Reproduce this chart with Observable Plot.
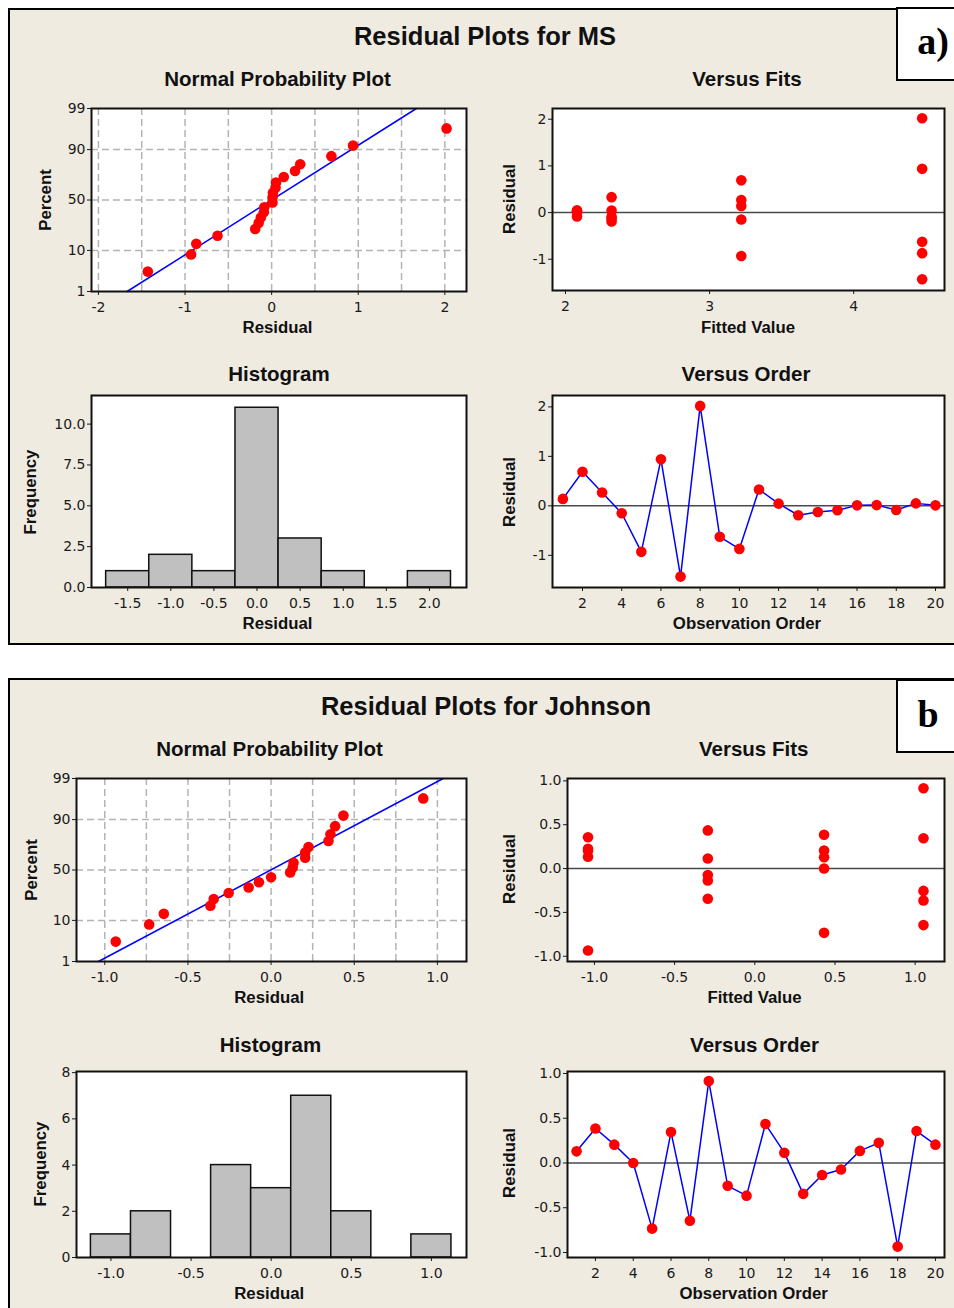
<!DOCTYPE html>
<html>
<head>
<meta charset="utf-8">
<script src="https://cdn.jsdelivr.net/npm/d3@7"></script>
<script src="https://cdn.jsdelivr.net/npm/@observablehq/plot@0.6"></script>
<style>
  html, body { margin: 0; padding: 0; background: #ffffff; }
  #page { position: relative; width: 954px; height: 1308px; overflow: hidden; background: #ffffff; }
  .panel { position: absolute; box-sizing: border-box; border: 2px solid #000; background: #EFEBE1; }
  .tag { position: absolute; box-sizing: border-box; border: 2px solid #000; background: #ffffff; }
  .txt { position: absolute; white-space: nowrap; line-height: 1; font-family: "Liberation Sans", Arial, sans-serif; font-weight: bold; color: #111; transform: translate(-50%, -50%); }
  .rot { transform: translate(-50%, -50%) rotate(-90deg); }
  .letter { position: absolute; width: 100px; text-align: center; line-height: 1; font-family: "Liberation Serif", "Times New Roman", serif; font-weight: bold; font-size: 38px; color: #000; }
</style>
</head>
<body>
<div id="page"></div>
<script>
// ---------------- DATA ----------------
const obsOrder = [1, 2, 3, 4, 5, 6, 7, 8, 9, 10, 11, 12, 13, 14, 15, 16, 17, 18, 19, 20];

// Panel a) MS
const residA = [0.14, 0.69, 0.27, -0.15, -0.93, 0.94, -1.43, 2.02, -0.625, -0.87,
                0.33, 0.045, -0.19, -0.125, -0.09, 0.01, 0.015, -0.085, 0.05, 0.01];
const fitsA  = [3.22, 3.22, 3.22, 3.22, 3.22, 4.475, 4.475, 4.475, 4.475, 4.475,
                2.32, 2.32, 2.32, 2.32, 2.32, 2.08, 2.08, 2.08, 2.08, 2.08];
const histMidA   = [-1.5, -1.0, -0.5, 0.0, 0.5, 1.0, 1.5, 2.0];
const histCountA = [1, 2, 1, 11, 3, 1, 0, 1];
const histWidthA = 0.5;

// Panel b) Johnson
const residB = [0.13, 0.385, 0.205, 0.0, -0.733, 0.345, -0.645, 0.915, -0.255, -0.365,
                0.435, 0.115, -0.345, -0.135, -0.073, 0.135, 0.225, -0.934, 0.357, 0.205];
const fitsB  = [0.432, 0.432, 0.432, 0.432, 0.432, 1.052, 1.052, 1.052, 1.052, 1.052,
                -0.293, -0.293, -0.293, -0.293, -0.293, -1.04, -1.04, -1.04, -1.04, -1.04];
const histMidB   = [-1.0, -0.75, -0.5, -0.25, 0.0, 0.25, 0.5, 0.75, 1.0];
const histCountB = [1, 2, 0, 4, 3, 7, 2, 0, 1];
const histWidthB = 0.25;

// Tick labels / grid values
const pctTicks = [1, 10, 50, 90, 99];
const pctGrid  = [10, 50, 90];
const npXTicksA = [-2, -1, 0, 1, 2];
const npGridA   = [-2, -1.5, -1, -0.5, 0, 0.5, 1, 1.5, 2];
const fitXTicksA = [2, 3, 4];
const residTicksA = [-1, 0, 1, 2];
const histXTicksA = [-1.5, -1.0, -0.5, 0.0, 0.5, 1.0, 1.5, 2.0];
const histYTicksA = [0, 2.5, 5, 7.5, 10];
const orderTicks = [2, 4, 6, 8, 10, 12, 14, 16, 18, 20];
const npXTicksB = [-1, -0.5, 0, 0.5, 1];
const npGridB   = [-1, -0.75, -0.5, -0.25, 0, 0.25, 0.5, 0.75, 1];
const fitXTicksB = [-1, -0.5, 0, 0.5, 1];
const residTicksB = [-1, -0.5, 0, 0.5, 1];
const histXTicksB = [-1, -0.5, 0, 0.5, 1];
const histYTicksB = [0, 2, 4, 6, 8];

// ---------------- HELPERS ----------------
const page = document.getElementById("page");

// inverse standard normal CDF (Acklam)
function probit(p) {
  const a = [-3.969683028665376e+01, 2.209460984245205e+02, -2.759285104469687e+02, 1.383577518672690e+02, -3.066479806614716e+01, 2.506628277459239e+00];
  const b = [-5.447609879822406e+01, 1.615858368580409e+02, -1.556989798598866e+02, 6.680131188771972e+01, -1.328068155288572e+01];
  const c = [-7.784894002430293e-03, -3.223964580411365e-01, -2.400758277161838e+00, -2.549732539343734e+00, 4.374664141464968e+00, 2.938163982698783e+00];
  const d = [7.784695709041462e-03, 3.224671290700398e-01, 2.445134137142996e+00, 3.754408661907416e+00];
  const plow = 0.02425, phigh = 1 - plow;
  let q, r;
  if (p < plow) {
    q = Math.sqrt(-2 * Math.log(p));
    return (((((c[0]*q+c[1])*q+c[2])*q+c[3])*q+c[4])*q+c[5]) / ((((d[0]*q+d[1])*q+d[2])*q+d[3])*q+1);
  }
  if (p > phigh) {
    q = Math.sqrt(-2 * Math.log(1 - p));
    return -(((((c[0]*q+c[1])*q+c[2])*q+c[3])*q+c[4])*q+c[5]) / ((((d[0]*q+d[1])*q+d[2])*q+d[3])*q+1);
  }
  q = p - 0.5; r = q * q;
  return (((((a[0]*r+a[1])*r+a[2])*r+a[3])*r+a[4])*r+a[5])*q / (((((b[0]*r+b[1])*r+b[2])*r+b[3])*r+b[4])*r+1);
}
const zTicks = pctTicks.map(p => probit(p / 100));
const zGrid = pctGrid.map(p => probit(p / 100));
const pctFmt = z => { const i = zTicks.findIndex(t => Math.abs(t - z) < 1e-6); return i >= 0 ? String(pctTicks[i]) : ""; };
const intFmt = d => String(d);
const f1 = d => d.toFixed(1);

function addPanel(x, y, w, h) {
  const el = document.createElement("div");
  el.className = "panel";
  Object.assign(el.style, { left: x + "px", top: y + "px", width: w + "px", height: h + "px" });
  page.appendChild(el);
}
function addTag(x, y, w, h, label, baseline, cx) {
  const el = document.createElement("div");
  el.className = "tag";
  Object.assign(el.style, { left: x + "px", top: y + "px", width: w + "px", height: h + "px" });
  page.appendChild(el);
  const t = document.createElement("div");
  t.className = "letter";
  t.textContent = label;
  Object.assign(t.style, { left: (cx - 50) + "px", top: (baseline - 31.8) + "px" });
  page.appendChild(t);
}
function addText(str, cx, cy, size, rotate) {
  const el = document.createElement("div");
  el.className = "txt" + (rotate ? " rot" : "");
  el.textContent = str;
  Object.assign(el.style, { left: cx + "px", top: cy + "px", fontSize: size + "px" });
  page.appendChild(el);
}

const ML = 60, MR = 14, MT = 14, MB = 36;
function chart(frame, opts) {
  const [x1, y1, x2, y2] = frame;
  const svg = Plot.plot({
    width: x2 - x1 + ML + MR,
    height: y2 - y1 + MT + MB,
    marginLeft: ML, marginRight: MR, marginTop: MT, marginBottom: MB,
    style: {
      position: "absolute", left: (x1 - ML) + "px", top: (y1 - MT) + "px",
      background: "transparent", fontFamily: "'DejaVu Sans', Verdana, sans-serif",
      fontSize: "14px", color: "#1a1a1a", overflow: "visible", maxWidth: "none"
    },
    x: { domain: opts.xDomain, ticks: opts.xTicks, tickFormat: opts.xFmt, tickSize: 4, tickPadding: 7, label: null },
    y: { domain: opts.yDomain, ticks: opts.yTicks, tickFormat: opts.yFmt, tickSize: 4, tickPadding: 2, label: null },
    marks: [
      Plot.frame({ fill: "white", stroke: "none" }),
      ...opts.marks,
      Plot.frame({ stroke: "#111", strokeWidth: 2 })
    ]
  });
  page.appendChild(svg);
}

const RED = "#ff0000", BLUE = "#0000ff";
const gridStyle = { stroke: "#b4b4b4", strokeWidth: 1.5, strokeDasharray: "7,4" };

function nppMarks(resid, grid) {
  const sorted = resid.slice().sort((a, b) => a - b);
  const n = sorted.length;
  const pts = sorted.map((r, i) => ({ r, z: probit((i + 1 - 0.3) / (n + 0.4)) }));
  const mu = d3.mean(resid), sd = d3.deviation(resid);
  const fit = [0.01, 0.99].map(p => ({ z: probit(p), r: mu + sd * probit(p) }));
  return [
    Plot.ruleX(grid, gridStyle),
    Plot.ruleY(zGrid, gridStyle),
    Plot.line(fit, { x: "r", y: "z", stroke: BLUE, strokeWidth: 1.5 }),
    Plot.dot(pts, { x: "r", y: "z", r: 5.3, fill: RED, stroke: "none" })
  ];
}
function fitsMarks(fits, resid) {
  const pts = fits.map((f, i) => ({ f, r: resid[i] }));
  return [
    Plot.ruleY([0], { stroke: "#4a4a4a", strokeWidth: 1.5 }),
    Plot.dot(pts, { x: "f", y: "r", r: 5.3, fill: RED, stroke: "none" })
  ];
}
function orderMarks(resid) {
  const pts = obsOrder.map((o, i) => ({ o, r: resid[i] }));
  return [
    Plot.ruleY([0], { stroke: "#4a4a4a", strokeWidth: 1.5 }),
    Plot.line(pts, { x: "o", y: "r", stroke: BLUE, strokeWidth: 1.5 }),
    Plot.dot(pts, { x: "o", y: "r", r: 5.3, fill: RED, stroke: "none" })
  ];
}
function histMarks(mids, counts, w) {
  const bins = mids.map((m, i) => ({ x1: m - w / 2, x2: m + w / 2, c: counts[i] }));
  return [
    Plot.rectY(bins, { x1: "x1", x2: "x2", y: "c", fill: "#c0c0c0", stroke: "#111", strokeWidth: 1.5 })
  ];
}

// ---------------- LAYOUT ----------------
addPanel(8, 8, 980, 637);
addPanel(8, 678, 980, 700);
addTag(896, 7, 80, 74, "a)", 54, 933);
addTag(896, 679, 80, 74, "b", 727, 928);

// Panel a
addText("Residual Plots for MS", 485, 37, 25.5);
addText("Normal Probability Plot", 277.5, 78.5, 20.5);
addText("Versus Fits", 747, 78.5, 20.5);
addText("Histogram", 279, 373.7, 20.5);
addText("Versus Order", 746, 373.7, 20.5);
addText("Residual", 277.5, 327.5, 16.8);
addText("Fitted Value", 748, 327.5, 16.8);
addText("Residual", 277.5, 624.2, 16.8);
addText("Observation Order", 747, 624.2, 16.8);
addText("Percent", 45.8, 199.5, 16.8, true);
addText("Residual", 509.5, 199, 16.8, true);
addText("Frequency", 31.2, 491.7, 16.8, true);
addText("Residual", 509.5, 492, 16.8, true);

chart([91, 108, 466, 291], {
  xDomain: [-2.08, 2.25], yDomain: [probit(0.01), probit(0.99)],
  xTicks: npXTicksA, yTicks: zTicks, xFmt: intFmt, yFmt: pctFmt,
  marks: nppMarks(residA, npGridA)
});
chart([552, 108, 944, 290], {
  xDomain: [1.91, 4.63], yDomain: [-1.67, 2.23],
  xTicks: fitXTicksA, yTicks: residTicksA, xFmt: intFmt, yFmt: intFmt,
  marks: fitsMarks(fitsA, residA)
});
chart([91, 395, 466, 587], {
  xDomain: [-1.92, 2.43], yDomain: [0, 11.75],
  xTicks: histXTicksA, yTicks: histYTicksA, xFmt: f1, yFmt: f1,
  marks: histMarks(histMidA, histCountA, histWidthA)
});
chart([552, 395, 944, 587], {
  xDomain: [0.47, 20.46], yDomain: [-1.65, 2.23],
  xTicks: orderTicks, yTicks: residTicksA, xFmt: intFmt, yFmt: intFmt,
  marks: orderMarks(residA)
});

// Panel b
addText("Residual Plots for Johnson", 486, 707.2, 25.5);
addText("Normal Probability Plot", 269.5, 749.2, 20.5);
addText("Versus Fits", 753.7, 749.2, 20.5);
addText("Histogram", 270.5, 1044.5, 20.5);
addText("Versus Order", 754.5, 1044.5, 20.5);
addText("Residual", 269.2, 997.5, 16.8);
addText("Fitted Value", 754.5, 997.5, 16.8);
addText("Residual", 269.2, 1294.2, 16.8);
addText("Observation Order", 753.7, 1294.2, 16.8);
addText("Percent", 31.8, 870, 16.8, true);
addText("Residual", 509.5, 869, 16.8, true);
addText("Frequency", 40.8, 1164, 16.8, true);
addText("Residual", 509.5, 1163.3, 16.8, true);

chart([76, 778, 466, 961], {
  xDomain: [-1.17, 1.175], yDomain: [probit(0.01), probit(0.99)],
  xTicks: npXTicksB, yTicks: zTicks, xFmt: f1, yFmt: pctFmt,
  marks: nppMarks(residB, npGridB)
});
chart([567, 778, 944, 961], {
  xDomain: [-1.168, 1.183], yDomain: [-1.06, 1.027],
  xTicks: fitXTicksB, yTicks: residTicksB, xFmt: f1, yFmt: f1,
  marks: fitsMarks(fitsB, residB)
});
chart([76, 1071, 466, 1257], {
  xDomain: [-1.215, 1.219], yDomain: [0, 8.05],
  xTicks: histXTicksB, yTicks: histYTicksB, xFmt: f1, yFmt: intFmt,
  marks: histMarks(histMidB, histCountB, histWidthB)
});
chart([567, 1071, 944, 1257], {
  xDomain: [0.52, 20.48], yDomain: [-1.056, 1.022],
  xTicks: orderTicks, yTicks: residTicksB, xFmt: intFmt, yFmt: f1,
  marks: orderMarks(residB)
});
</script>
</body>
</html>
